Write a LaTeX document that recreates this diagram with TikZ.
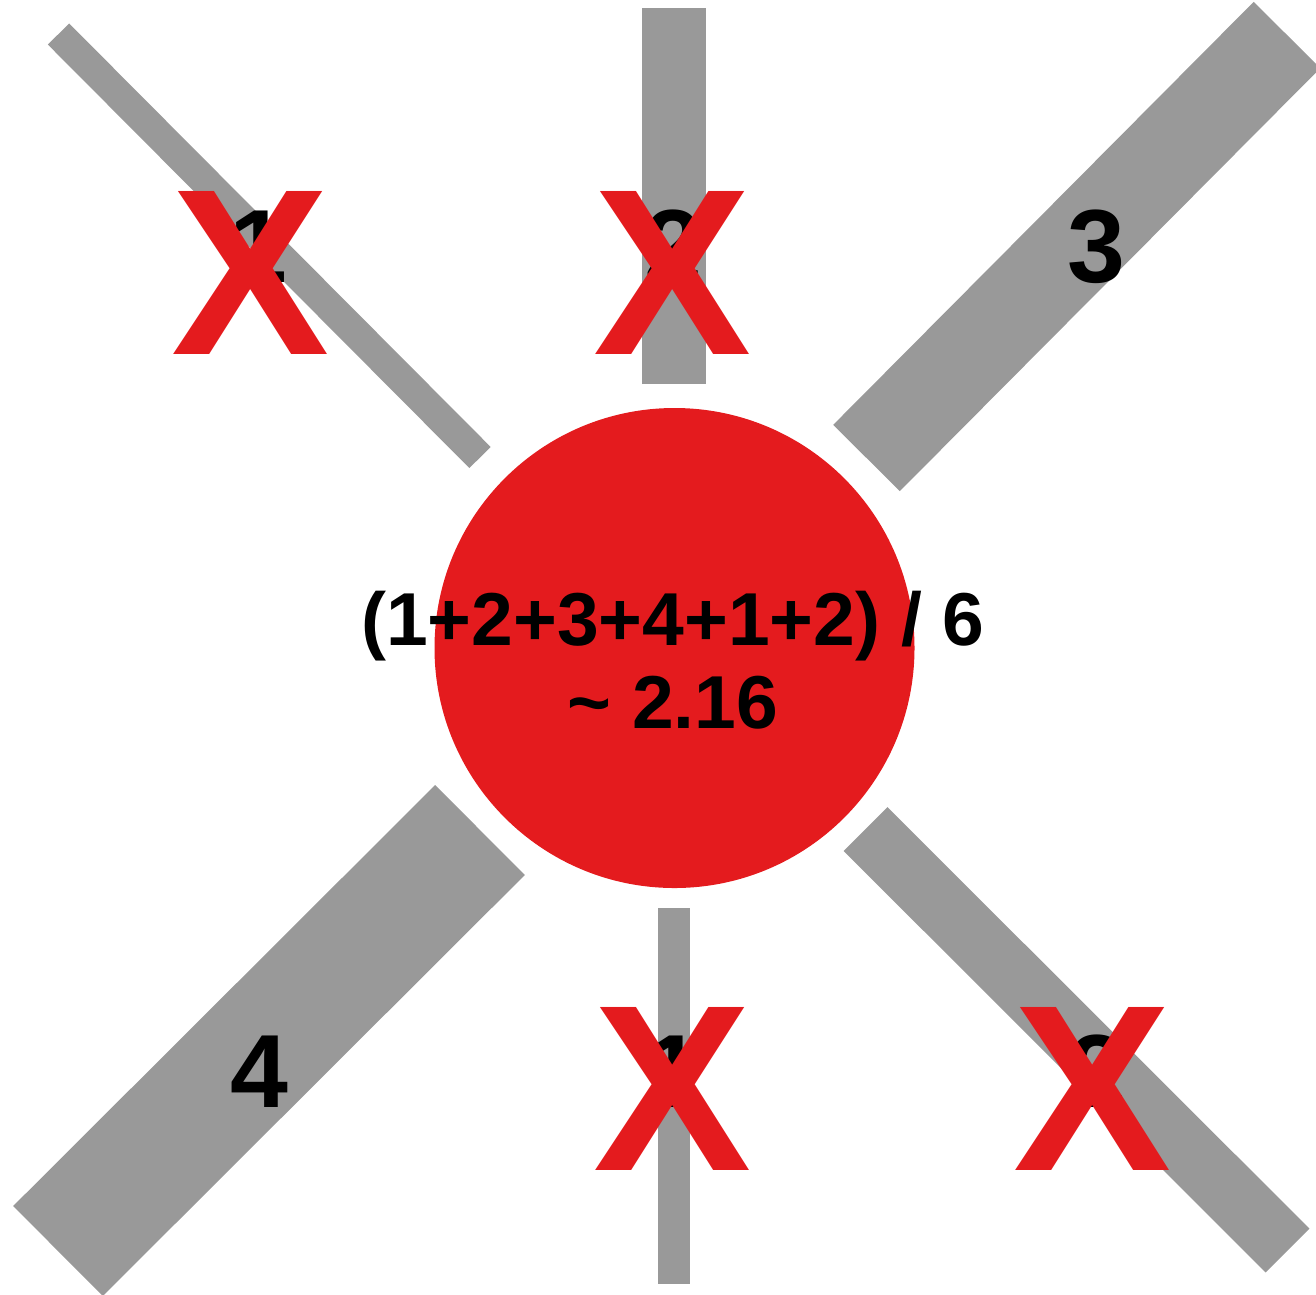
\documentclass[tikz,border=0pt]{standalone}
\usepackage{fontspec}
\setmainfont{Liberation Sans}
\definecolor{xred}{RGB}{228,27,30}
\definecolor{bargray}{RGB}{153,153,153}
\begin{document}
\begin{tikzpicture}[x=1pt,y=-1pt,
  bar/.style={draw=bargray,line cap=butt},
  num/.style={font=\fontsize{104}{104}\selectfont\bfseries,anchor=base,inner sep=0pt},
  cross/.style={font=\fontsize{237}{237}\selectfont\bfseries,text=xred,anchor=base,inner sep=0pt},
  formula/.style={font=\fontsize{75}{83}\selectfont\bfseries,anchor=base,inner sep=0pt}]
\useasboundingbox (0,0) rectangle (1316,1294);
% bars
\coordinate (b1a) at (480,457.5); \coordinate (b1b) at (58.5,34);
\coordinate (b2a) at (674,384); \coordinate (b2b) at (674,8);
\coordinate (b3a) at (866.5,458); \coordinate (b3b) at (1287,35);
\coordinate (b4a) at (480,830); \coordinate (b4b) at (58,1251);
\coordinate (b5a) at (674,908); \coordinate (b5b) at (674,1284);
\coordinate (b6a) at (865.5,829); \coordinate (b6b) at (1287.5,1250.5);
\draw[bar,line width=30] (b1a) -- (b1b);
\draw[bar,line width=64] (b2a) -- (b2b);
\draw[bar,line width=94] (b3a) -- (b3b);
\draw[bar,line width=127] (b4a) -- (b4b);
\draw[bar,line width=32] (b5a) -- (b5b);
\draw[bar,line width=62] (b6a) -- (b6b);
% circle
\node[circle,fill=xred,minimum size=480,inner sep=0pt] (c) at (674.5,648) {};
\node[formula] (f1) at (673,645) {(1+2+3+4+1+2) / 6};
\node[formula] (f2) at (673,728) {\char`\~{} 2.16};
% numbers
\node[num] (n1) at (258,282) {1};
\node[num] (n2) at (673,282) {2};
\node[num] (n3) at (1096,282) {3};
\node[num] (n4) at (259,1107) {4};
\node[num] (n5) at (673,1107) {1};
\node[num] (n6) at (1097,1107) {2};
% crosses
\node[cross] (x1) at (251,354) {X};
\node[cross] (x2) at (673,354) {X};
\node[cross] (x5) at (673,1170) {X};
\node[cross] (x6) at (1093,1170) {X};
\end{tikzpicture}
\end{document}
